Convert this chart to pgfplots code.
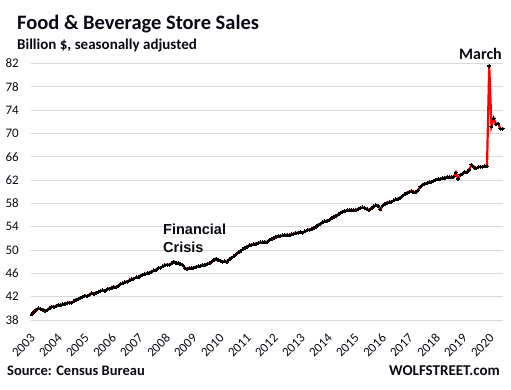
\documentclass[border=0pt]{standalone}
\usepackage{pgfplots}
\pgfplotsset{compat=1.18}
\usepackage{fontspec}
\setmainfont{Carlito}
\newfontfamily\arialfont{Liberation Sans}
\definecolor{gridgray}{RGB}{217,217,217}
\definecolor{lred}{RGB}{255,0,0}
\definecolor{txt}{RGB}{10,10,20}

\begin{document}
\begin{tikzpicture}[x=1pt,y=1pt]
\path[use as bounding box, fill=white] (0,0) rectangle (511,389);
\begin{axis}[at={(31pt,69pt)}, anchor=south west, scale only axis,
  width=472pt, height=256.5pt,
  xmin=-0.3, xmax=212.2, ymin=38, ymax=82,
  axis line style={draw=none}, major tick length=0pt,
  ytick={38,42,...,82}, ymajorgrids,
  grid style={gridgray, line width=0.9pt},
  xtick={1.49,13.64,25.80,37.96,50.12,62.27,74.43,86.59,98.75,110.90,123.06,135.22,147.38,159.53,171.69,183.85,196.00,208.16},
  xticklabels={2003,2004,2005,2006,2007,2008,2009,2010,2011,2012,2013,2014,2015,2016,2017,2018,2019,2020},
  /pgf/number format/assume math mode=true,
  yticklabel style={font=\fontsize{13}{13}\selectfont, text=txt, anchor=east, inner sep=0pt, xshift=-12pt},
  xticklabel style={font=\fontsize{13}{13}\selectfont, text=txt, inner sep=0pt, xshift=-2pt, yshift=-16pt, rotate=45, anchor=east},
  clip=false]
\addplot[lred, line width=2.2pt, mark=*, mark size=1.5pt, mark options={draw=black, fill=black, line width=0pt}] coordinates {
(0,39.0)(1,39.4)(2,39.8)(3,40.0)(4,39.9)(5,39.8)(6,39.6)(7,39.7)(8,40.0)(9,40.3)(10,40.2)(11,40.4)
(12,40.6)(13,40.5)(14,40.7)(15,40.8)(16,40.9)(17,41.0)(18,41.0)(19,41.2)(20,41.5)(21,41.6)(22,41.8)(23,42.0)
(24,42.2)(25,42.1)(26,42.3)(27,42.6)(28,42.5)(29,42.7)(30,42.8)(31,43.0)(32,43.1)(33,43.0)(34,43.3)(35,43.4)
(36,43.5)(37,43.7)(38,43.6)(39,43.9)(40,44.2)(41,44.3)(42,44.5)(43,44.6)(44,44.8)(45,45.0)(46,45.1)(47,45.3)
(48,45.3)(49,45.6)(50,45.8)(51,45.9)(52,46.0)(53,46.1)(54,46.3)(55,46.5)(56,46.6)(57,46.9)(58,47.0)(59,47.2)
(60,47.4)(61,47.5)(62,47.5)(63,47.7)(64,48.0)(65,47.8)(66,47.8)(67,47.6)(68,47.4)(69,46.9)(70,46.8)(71,46.9)
(72,46.9)(73,47.0)(74,47.1)(75,47.2)(76,47.3)(77,47.4)(78,47.5)(79,47.6)(80,47.7)(81,48.0)(82,48.3)(83,48.5)
(84,48.3)(85,48.2)(86,48.0)(87,48.1)(88,48.0)(89,48.4)(90,48.7)(91,48.9)(92,49.3)(93,49.6)(94,49.8)(95,50.1)
(96,50.4)(97,50.6)(98,50.8)(99,50.9)(100,51.0)(101,51.1)(102,51.2)(103,51.3)(104,51.3)(105,51.4)(106,51.4)(107,51.7)
(108,51.9)(109,52.1)(110,52.3)(111,52.4)(112,52.4)(113,52.5)(114,52.6)(115,52.6)(116,52.5)(117,52.7)(118,52.8)(119,52.9)
(120,53.0)(121,53.1)(122,53.0)(123,53.2)(124,53.4)(125,53.5)(126,53.6)(127,53.8)(128,54.0)(129,54.3)(130,54.5)(131,54.8)
(132,54.9)(133,55.0)(134,55.2)(135,55.5)(136,55.7)(137,55.9)(138,56.1)(139,56.4)(140,56.6)(141,56.7)(142,56.8)(143,56.8)
(144,56.9)(145,56.8)(146,56.9)(147,57.0)(148,57.2)(149,57.3)(150,57.2)(151,57.0)(152,56.9)(153,57.2)(154,57.5)(155,57.7)
(156,57.6)(157,57.0)(158,57.6)(159,57.9)(160,58.1)(161,58.2)(162,58.3)(163,58.5)(164,58.7)(165,58.8)(166,59.0)(167,59.3)
(168,59.6)(169,59.8)(170,60.0)(171,60.1)(172,59.9)(173,59.9)(174,60.3)(175,60.9)(176,61.2)(177,61.4)(178,61.5)(179,61.6)
(180,61.7)(181,61.9)(182,62.1)(183,62.2)(184,62.2)(185,62.3)(186,62.4)(187,62.5)(188,62.5)(189,62.5)(190,62.6)(191,63.3)
(192,62.2)(193,62.9)(194,63.1)(195,63.4)(196,63.4)(197,63.8)(198,64.6)(199,64.3)(200,64.0)(201,64.2)(202,64.3)(203,64.3)
(204,64.4)(205,64.4)(206,81.6)(207,71.2)(208,72.6)(209,71.6)(210,71.7)(211,70.8)(212,70.8)
};
\end{axis}
\node[anchor=base west, inner sep=0pt, text=txt] at (17,359.7) {\fontsize{20.5}{24}\selectfont\bfseries Food \& Beverage Store Sales};
\node[anchor=base west, inner sep=0pt, text=txt] at (17,339) {\fontsize{15}{18}\selectfont\bfseries Billion \$, seasonally adjusted};
\node[anchor=base west, inner sep=0pt, text=txt] at (459,329) {\fontsize{16}{18}\selectfont\bfseries March};
\node[anchor=base west, inner sep=0pt, text=txt] at (163,154.7) {\arialfont\fontsize{14.5}{16}\selectfont\bfseries Financial};
\node[anchor=base west, inner sep=0pt, text=txt] at (163,136.3) {\arialfont\fontsize{14.5}{16}\selectfont\bfseries Crisis};
\node[anchor=base west, inner sep=0pt, text=txt] at (7,13.3) {\fontsize{14.5}{16}\selectfont\bfseries Source: Census Bureau};
\node[anchor=base east, inner sep=0pt, text=txt] at (500,13.3) {\fontsize{15}{16}\selectfont\bfseries WOLFSTREET.com};
\end{tikzpicture}
\end{document}
